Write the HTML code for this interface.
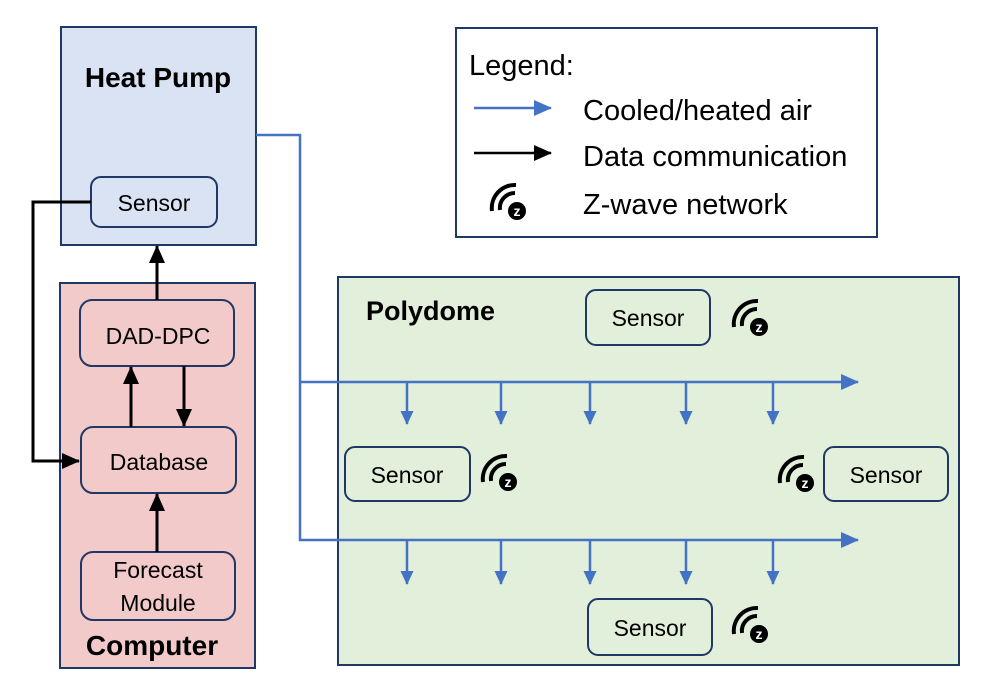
<!DOCTYPE html>
<html><head><style>body{margin:0;background:#fff}svg{display:block}text{font-family:"Liberation Sans",sans-serif}</style></head><body>
<svg width="996" height="700" viewBox="0 0 996 700" xmlns="http://www.w3.org/2000/svg">
<defs>
<marker id="ab" markerWidth="14" markerHeight="14" refX="13" refY="7" orient="auto" markerUnits="userSpaceOnUse" viewBox="0 0 14 14"><path d="M0,0.5 L14,7 L0,13.5 z" fill="#4472C4"/></marker>
<marker id="ab2" markerWidth="18" markerHeight="16" refX="17" refY="8" orient="auto" markerUnits="userSpaceOnUse" viewBox="0 0 18 16"><path d="M0,0 L18,8 L0,16 z" fill="#4472C4"/></marker>
<marker id="ak" markerWidth="18" markerHeight="16" refX="17" refY="8" orient="auto" markerUnits="userSpaceOnUse" viewBox="0 0 18 16"><path d="M0,0 L18,8 L0,16 z" fill="#000"/></marker>
<g id="zw">
<path d="M-16,1 A15 15 0 0 1 -1,-16" stroke="#000" stroke-width="4" fill="none"/>
<path d="M-24,2 A23 23 0 0 1 0,-24" stroke="#000" stroke-width="4" fill="none"/>
<circle cx="1" cy="2" r="9" fill="#000"/>
</g>
</defs>
<!-- Heat pump -->
<rect x="61" y="27" width="195" height="218" fill="#DAE3F3" stroke="#1F3864" stroke-width="2"/>
<text x="158" y="87" font-size="28" font-weight="bold" text-anchor="middle">Heat Pump</text>
<rect x="91" y="177" width="126" height="50" rx="10" fill="#DAE3F3" stroke="#1F3864" stroke-width="2"/>
<text x="154" y="211" font-size="23" text-anchor="middle">Sensor</text>
<!-- Computer -->
<rect x="60" y="283" width="195" height="385" fill="#F2CACA" stroke="#1F3864" stroke-width="2"/>
<rect x="80" y="300" width="154" height="66" rx="12" fill="#F2CACA" stroke="#1F3864" stroke-width="2"/>
<text x="158" y="344" font-size="23" text-anchor="middle">DAD-DPC</text>
<rect x="81" y="427" width="155" height="66" rx="12" fill="#F2CACA" stroke="#1F3864" stroke-width="2"/>
<text x="159" y="470" font-size="23" text-anchor="middle">Database</text>
<rect x="81" y="552" width="154" height="68" rx="12" fill="#F2CACA" stroke="#1F3864" stroke-width="2"/>
<text x="158" y="578" font-size="23" text-anchor="middle">Forecast</text>
<text x="158" y="611" font-size="23" text-anchor="middle">Module</text>
<text x="152" y="655" font-size="28" font-weight="bold" text-anchor="middle">Computer</text>
<!-- black arrows -->
<g stroke="#000" stroke-width="3" fill="none">
<path d="M91,202 H33 V461 H79" marker-end="url(#ak)"/>
<path d="M157,300 V246" marker-end="url(#ak)"/>
<path d="M131,427 V367" marker-end="url(#ak)"/>
<path d="M184,366 V426" marker-end="url(#ak)"/>
<path d="M157,552 V494" marker-end="url(#ak)"/>
</g>
<!-- Polydome -->
<rect x="338" y="277" width="621" height="388" fill="#E2EFDA" stroke="#1F3864" stroke-width="2"/>
<text x="366" y="320" font-size="27" font-weight="bold">Polydome</text>
<g fill="#E2EFDA" stroke="#1F3864" stroke-width="2">
<rect x="586" y="290" width="124" height="55" rx="10"/>
<rect x="345" y="447" width="125" height="54" rx="10"/>
<rect x="824" y="447" width="124" height="54" rx="10"/>
<rect x="588" y="599" width="124" height="56" rx="10"/>
</g>
<g font-size="23" text-anchor="middle">
<text x="648" y="326">Sensor</text>
<text x="407" y="483">Sensor</text>
<text x="886" y="483">Sensor</text>
<text x="650" y="636">Sensor</text>
</g>
<!-- blue lines -->
<g stroke="#4472C4" stroke-width="2.5" fill="none">
<path d="M256,135 H300 V540 H858" marker-end="url(#ab2)"/>
<path d="M300,382 H858" marker-end="url(#ab2)"/>
<path d="M407,382 V424" marker-end="url(#ab)"/>
<path d="M501,382 V424" marker-end="url(#ab)"/>
<path d="M590,382 V424" marker-end="url(#ab)"/>
<path d="M686,382 V424" marker-end="url(#ab)"/>
<path d="M773,382 V424" marker-end="url(#ab)"/>
<path d="M407,540 V584" marker-end="url(#ab)"/>
<path d="M501,540 V584" marker-end="url(#ab)"/>
<path d="M590,540 V584" marker-end="url(#ab)"/>
<path d="M686,540 V584" marker-end="url(#ab)"/>
<path d="M773,540 V584" marker-end="url(#ab)"/>
</g>
<!-- legend -->
<rect x="456" y="28" width="421" height="209" fill="#fff" stroke="#1F3864" stroke-width="2"/>
<text x="469" y="75" font-size="29">Legend:</text>
<text x="583" y="120" font-size="29">Cooled/heated air</text>
<text x="583" y="166" font-size="29">Data communication</text>
<text x="583" y="214" font-size="29">Z-wave network</text>
<path d="M474,108 H551" stroke="#4472C4" stroke-width="2.5" marker-end="url(#ab2)"/>
<path d="M474,153 H551" stroke="#000" stroke-width="2.5" marker-end="url(#ak)"/>
<!-- zwave icons -->
<g transform="translate(516,209)"><use href="#zw"/><text x="1" y="7" font-size="14" font-weight="bold" fill="#fff" text-anchor="middle">z</text></g>
<g transform="translate(758,325)"><use href="#zw"/><text x="1" y="7" font-size="14" font-weight="bold" fill="#fff" text-anchor="middle">z</text></g>
<g transform="translate(507,480)"><use href="#zw"/><text x="1" y="7" font-size="14" font-weight="bold" fill="#fff" text-anchor="middle">z</text></g>
<g transform="translate(804,481)"><use href="#zw"/><text x="1" y="7" font-size="14" font-weight="bold" fill="#fff" text-anchor="middle">z</text></g>
<g transform="translate(758,632)"><use href="#zw"/><text x="1" y="7" font-size="14" font-weight="bold" fill="#fff" text-anchor="middle">z</text></g>
</svg>
</body></html>
